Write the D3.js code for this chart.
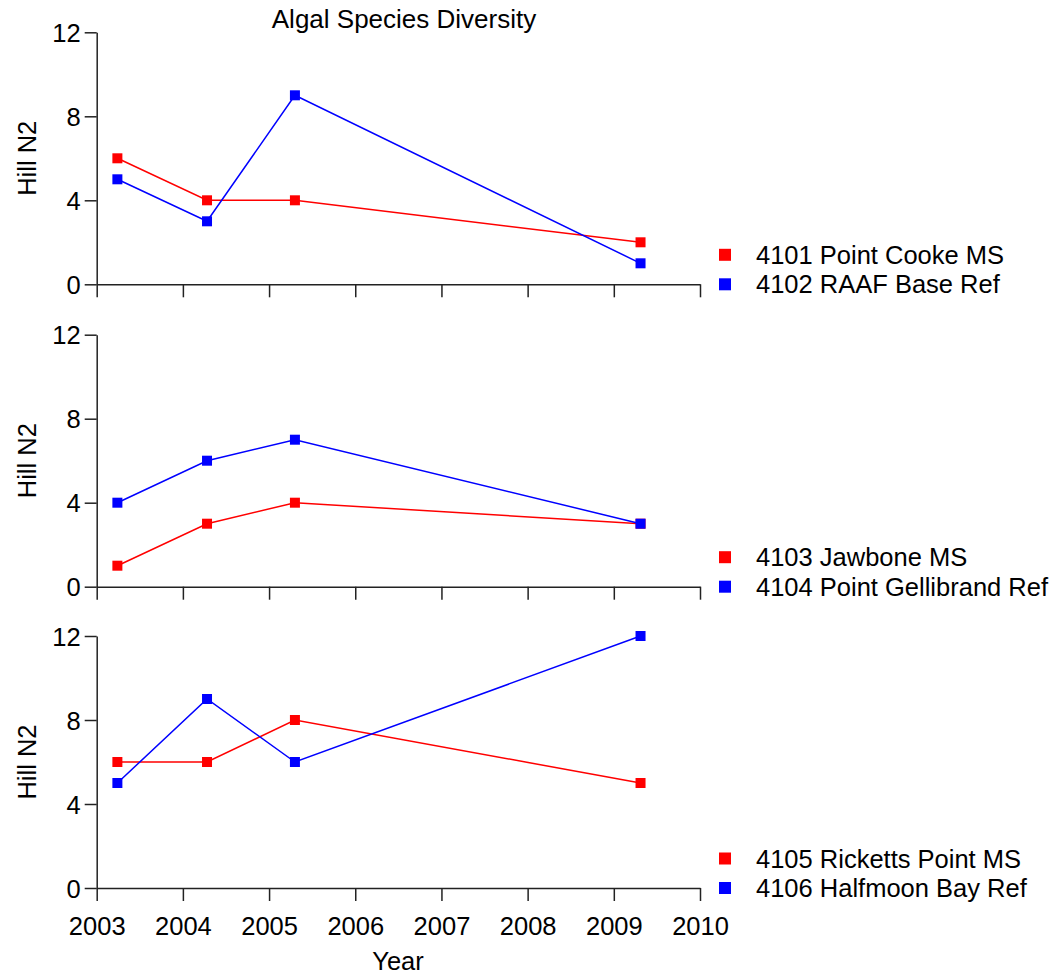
<!DOCTYPE html>
<html>
<head>
<meta charset="utf-8">
<script src="https://cdn.jsdelivr.net/npm/d3@7"></script>
<style>
  body { margin: 0; background: #fff; }
  text { font-family: "Liberation Sans", Arial, sans-serif; fill: #000; }
  .axis path, .axis line { stroke: #222; stroke-width: 1.5; }
</style>
</head>
<body>
<div id="chart"></div>
<script>
var w = 1058,
    h = 977;

// sampling dates (decimal years)
var years = [2003.24, 2004.28, 2005.30, 2009.31];
var xTicks = [2003, 2004, 2005, 2006, 2007, 2008, 2009, 2010];
var yTicks = [0, 4, 8, 12];

var sites = [
  ["4101 Point Cooke MS", "4102 RAAF Base Ref"],
  ["4103 Jawbone MS", "4104 Point Gellibrand Ref"],
  ["4105 Ricketts Point MS", "4106 Halfmoon Bay Ref"]
];
var redValues = [
  [6, 4, 4, 2],
  [1, 3, 4, 3],
  [6, 6, 8, 5]
];
var blueValues = [
  [5, 3, 9, 1],
  [4, 6, 7, 3],
  [5, 9, 6, 12]
];
var colors = ["#ff0000", "#0000ff"];

var left = 96.7, right = 700,
    panelTop = [32.3, 334.7, 636],
    panelH = 252;

var x = d3.scaleLinear().domain([2003, 2010]).range([left, right]);

var svg = d3.select("#chart").append("svg")
    .attr("width", w)
    .attr("height", h);

svg.append("text")
    .attr("x", 404)
    .attr("y", 28)
    .attr("text-anchor", "middle")
    .style("font-size", "26px")
    .text("Algal Species Diversity");

panelTop.forEach(function(top, p) {
  var y = d3.scaleLinear().domain([0, 12]).range([top + panelH, top]);
  var g = svg.append("g");

  var yAxis = g.append("g")
      .attr("class", "axis")
      .attr("transform", "translate(" + left + ",0)")
      .call(d3.axisLeft(y).tickValues(yTicks).tickSize(12).tickSizeOuter(0).tickPadding(4));
  yAxis.selectAll("text").style("font-size", "25.5px").attr("dy", "0.36em");

  var xAxis = g.append("g")
      .attr("class", "axis")
      .attr("transform", "translate(0," + y(0) + ")")
      .call(d3.axisBottom(x).tickValues(xTicks).tickFormat(d3.format("d")).tickSize(13).tickSizeOuter(0).tickPadding(16));
  xAxis.selectAll("text").style("font-size", "25.5px");
  if (p < 2) xAxis.selectAll("text").remove();

  g.append("text")
      .attr("transform", "translate(36," + (top + panelH / 2) + ") rotate(-90)")
      .attr("text-anchor", "middle")
      .style("font-size", "25.5px")
      .text("Hill N2");

  [redValues[p], blueValues[p]].forEach(function(vals, s) {
    var pts = vals.map(function(v, i) { return [years[i], v]; });
    var line = d3.line()
        .x(function(d) { return x(d[0]); })
        .y(function(d) { return y(d[1]); });

    g.append("path")
        .datum(pts)
        .attr("fill", "none")
        .attr("stroke", colors[s])
        .attr("stroke-width", 1.5)
        .attr("d", line);

    g.selectAll(".pt" + s)
        .data(pts)
      .enter().append("rect")
        .attr("x", function(d) { return x(d[0]) - 5; })
        .attr("y", function(d) { return y(d[1]) - 5; })
        .attr("width", 10)
        .attr("height", 10)
        .attr("fill", colors[s]);

    // legend
    var ly = y(0) - (1 - s) * 29.5;
    g.append("rect")
        .attr("x", 719)
        .attr("y", ly - 6)
        .attr("width", 12)
        .attr("height", 12)
        .attr("fill", colors[s]);
    g.append("text")
        .attr("x", 756)
        .attr("y", ly + 9)
        .style("font-size", "25.5px")
        .text(sites[p][s]);
  });
});

svg.append("text")
    .attr("x", 398)
    .attr("y", 970)
    .attr("text-anchor", "middle")
    .style("font-size", "25.5px")
    .text("Year");
</script>
</body>
</html>
